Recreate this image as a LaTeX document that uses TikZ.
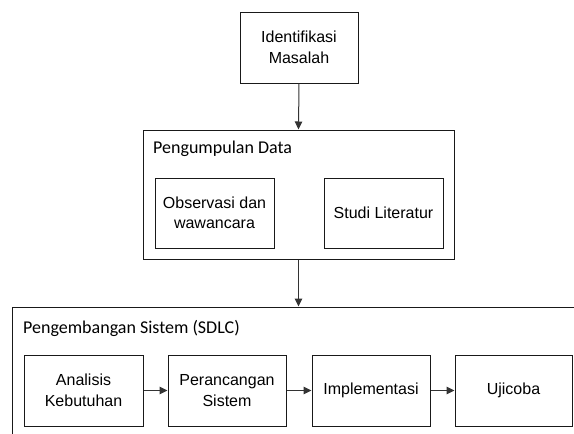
\documentclass[tikz,border=0pt]{standalone}
\usepackage{fontspec}
\setmainfont{Liberation Sans}
\newfontfamily\labelfont{Carlito}
\usetikzlibrary{arrows.meta}
\begin{document}
\begin{tikzpicture}[x=1pt,y=-1pt,
  frame/.style={draw=black!90,line width=1pt,inner sep=0pt},
  stepbox/.style={frame,minimum width=118pt,minimum height=71pt,align=center,
    font=\fontsize{16}{20.5}\selectfont},
  grouplabel/.style={anchor=base west,inner sep=0pt,font=\labelfont\fontsize{18}{22}\selectfont},
  flow/.style={draw=black!80,line width=1pt,-{Triangle[length=8pt,width=7.5pt]}}]
\useasboundingbox (0,0) rectangle (574,434);
\clip (0,0) rectangle (574,434);

% problem identification
\node[stepbox] (idm) at (299,47.5) {Identifikasi\\Masalah};

% data collection group
\node[frame,minimum width=311pt,minimum height=129pt] (pd) at (298.5,194.5) {};
\node[grouplabel] (pdl) at (153,153) {Pengumpulan Data};
\node[stepbox,minimum width=119pt,minimum height=70pt] (obs) at (214.5,213) {Observasi dan\\wawancara};
\node[stepbox,minimum width=119pt,minimum height=70pt] (lit) at (383.5,213) {Studi Literatur};

% system development group (runs past the right and bottom edges)
\node[frame,minimum width=590pt,minimum height=160pt] (sdlc) at (307,387) {};
\node[grouplabel] (sdlcl) at (23,333) {Pengembangan Sistem (SDLC)};
\node[stepbox,minimum width=119pt] (ak) at (83.5,390.5) {Analisis\\Kebutuhan};
\node[stepbox] (ps) at (227,390.5) {Perancangan\\Sistem};
\node[stepbox] (imp) at (371,390.5) {Implementasi};
\node[stepbox,minimum width=117pt] (uji) at (513.5,390.5) {Ujicoba};

% connectors
\draw[flow] (idm.south) -- (pd.north);
\draw[flow] (pd.south) -- (pd.south |- sdlc.north);
\draw[flow] (ak) -- (ps);
\draw[flow] (ps) -- (imp);
\draw[flow] (imp) -- (uji);
\end{tikzpicture}
\end{document}
